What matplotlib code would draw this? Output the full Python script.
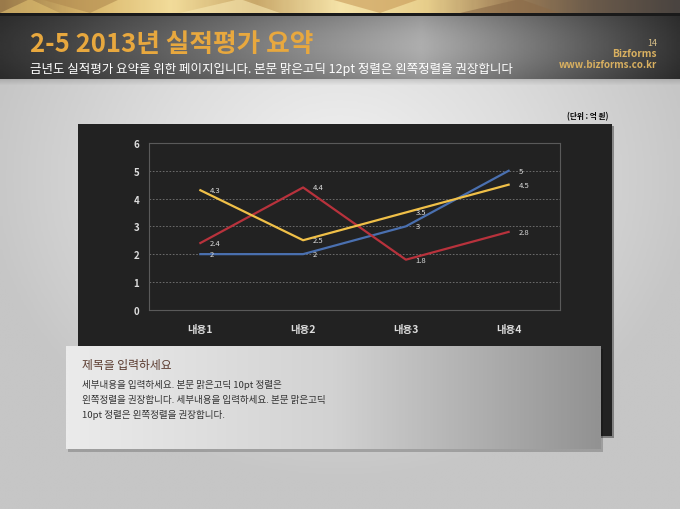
import numpy as np
import matplotlib.pyplot as plt
from matplotlib.patches import Rectangle, Polygon
from matplotlib.colors import LinearSegmentedColormap

plt.rcParams['font.family'] = ['Noto Sans CJK KR', 'DejaVu Sans']

categories = ['내용1', '내용2', '내용3', '내용4']
series_yellow = [4.3, 2.5, 3.5, 4.5]
series_red = [2.4, 4.4, 1.8, 2.8]
series_blue = [2, 2, 3, 5]
y_ticks = [0, 1, 2, 3, 4, 5, 6]

title = '2-5 2013년 실적평가 요약'
subtitle = '금년도 실적평가 요약을 위한 페이지입니다. 본문 맑은고딕 12pt 정렬은 왼쪽정렬을 권장합니다'
box_title = '제목을 입력하세요'
box_lines = ['세부내용을 입력하세요. 본문 맑은고딕 10pt 정렬은',
             '왼쪽정렬을 권장합니다. 세부내용을 입력하세요. 본문 맑은고딕',
             '10pt 정렬은 왼쪽정렬을 권장합니다.']

W, H = 680, 510
fig = plt.figure(figsize=(6.8, 5.1), dpi=100)
bg = fig.add_axes([0, 0, 1, 1])
bg.set_xlim(0, W)
bg.set_ylim(H, 0)
bg.axis('off')

# slide background: light gray, brighter in the middle
xx, yy = np.meshgrid(np.linspace(-1, 1, 200), np.linspace(-1, 1, 200))
rr = np.clip(np.sqrt(xx**2 * 0.9 + (yy + 0.3)**2 * 0.7), 0, 1)
bg_cmap = LinearSegmentedColormap.from_list('bgc', ['#f2f2f2', '#dedede', '#c6c6c6'])
bg.imshow(rr, cmap=bg_cmap, extent=(0, W, H, 0), aspect='auto', zorder=0)

# golden top band
gold_cmap = LinearSegmentedColormap.from_list('gold', ['#9a7a4a', '#d9b66a', '#f2dc9a', '#c9a86a',
                                                       '#f5e3a8', '#e8cf8c', '#a08058', '#6a5a4a', '#4a4440'])
gx = np.linspace(0, 1, 300)[None, :]
bg.imshow(gx, cmap=gold_cmap, extent=(0, W, 14, 0), aspect='auto', zorder=1)
tri = [[(40, 0), (90, 14), (120, 0)], [(180, 14), (240, 0), (280, 14)], [(330, 0), (380, 14), (420, 0)],
       [(460, 14), (520, 0), (560, 14)], [(0, 14), (30, 0), (60, 14)]]
for i, t in enumerate(tri):
    bg.add_patch(Polygon(t, closed=True, color=['#b08a50', '#f7e7b0', '#c89a58', '#8a6a48', '#e0c070'][i],
                         alpha=0.6, lw=0, zorder=2))

# dark header band
hx = np.linspace(0, 1, 400)
prof = np.interp(hx, [0, 0.1, 0.62, 0.87, 1], [0.2, 0.27, 0.68, 0.36, 0.2])
hv = np.linspace(0, 1, 60)[:, None]
shade = prof[None, :] * (0.85 + 0.15 * np.sin(hv * np.pi))
bg.imshow(shade, cmap='gray', vmin=0, vmax=1, extent=(0, W, 80, 14), aspect='auto', zorder=1)
bg.add_patch(Rectangle((0, 14), W, 3, color='#1a1a1a', lw=0, zorder=2))
for k in range(6):
    bg.add_patch(Rectangle((0, 80 + k), W, 1, color='black', alpha=0.12 * (6 - k) / 6, lw=0, zorder=2))

bg.text(30, 45, title, color='#e8a83e', fontsize=18.5, fontweight='bold', va='center', ha='left', zorder=3)
bg.text(30, 69, subtitle, color='white', fontsize=9.0, va='center', ha='left', zorder=3)
bg.text(657, 43, '14', color='#d9c089', fontsize=6.5, va='center', ha='right', zorder=3)
bg.text(657, 54, 'Bizforms', color='#d9b060', fontsize=7.3, fontweight='bold', va='center', ha='right', zorder=3)
bg.text(657, 65, 'www.bizforms.co.kr', color='#d9b060', fontsize=7, fontweight='bold', va='center', ha='right', zorder=3)

bg.text(608, 117, '(단위 : 억 원)', color='black', fontsize=5.5, fontweight='bold', va='center', ha='right', zorder=3)

# chart panel with shadow
bg.add_patch(Rectangle((80, 127), 534, 312, color='#000000', alpha=0.35, lw=0, zorder=3))
bg.add_patch(Rectangle((78, 125), 534, 312, color='#222222', lw=0, zorder=4))

# text box with gradient and shadow
bg.add_patch(Rectangle((68, 350), 535, 103, color='#000000', alpha=0.2, lw=0, zorder=5))
box_cmap = LinearSegmentedColormap.from_list('box', ['#ebebeb', '#d2d2d2', '#929292'])
bg.imshow(np.linspace(0, 1, 300)[None, :], cmap=box_cmap, extent=(66, 601, 450, 347),
          aspect='auto', zorder=6)
bg.text(82, 366, box_title, color='#5a3a2e', fontsize=8.5, va='center', ha='left', zorder=7)
for i, line in enumerate(box_lines):
    bg.text(82, 385 + i * 15, line, color='#333333', fontsize=6.9, va='center', ha='left', zorder=7)

# line chart
ax = fig.add_axes([149 / W, 1 - 310.7 / H, 411 / W, 166.7 / H])
ax.set_facecolor('#222222')
x = np.arange(len(categories))
for vals, col in [(series_blue, '#4a70b0'), (series_red, '#b8323c'), (series_yellow, '#f0c048')]:
    ax.plot(x, vals, color=col, lw=1.6, zorder=3)
    for xi, v in zip(x, vals):
        ax.annotate(f'{v:g}', (xi, v), xytext=(7, 0), textcoords='offset points',
                    color='#dddddd', fontsize=5.5, va='center', ha='left', zorder=4)
ax.set_xlim(-0.5, len(categories) - 0.5)
ax.set_ylim(0, 6)
ax.set_yticks(y_ticks)
ax.set_xticks(x)
ax.set_xticklabels(categories)
ax.tick_params(colors='#dddddd', length=0)
ax.tick_params(axis='x', pad=10, labelsize=7.5)
ax.tick_params(axis='y', pad=7, labelsize=7)
for t in ax.get_xticklabels() + ax.get_yticklabels():
    t.set_fontweight('bold')
ax.grid(axis='y', color='#777777', ls=(0, (2, 2)), lw=0.6)
for s in ax.spines.values():
    s.set_color('#5a5a5a')
    s.set_linewidth(0.8)

fig.savefig('out.png', dpi=100)
